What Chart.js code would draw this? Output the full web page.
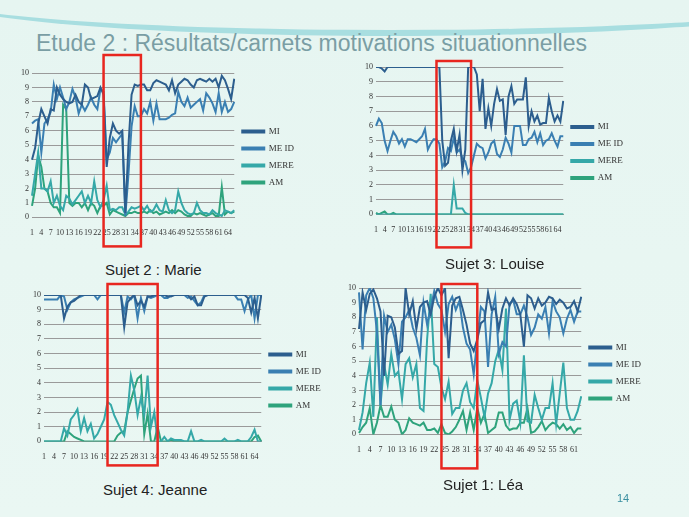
<!DOCTYPE html>
<html>
<head>
<meta charset="utf-8">
<script src="https://cdn.jsdelivr.net/npm/chart.js@4"></script>
<style>
  body { margin: 0; width: 689px; height: 517px; overflow: hidden; position: relative;
         background: linear-gradient(180deg, #e6f5f1 0%, #eaf7f3 100%); font-family: "Liberation Sans", Arial, sans-serif; }
  .swoosh { position: absolute; left: -60px; top: -40px; width: 900px; height: 70px; border-radius: 50%;
            border-bottom: 6px solid #7fcfd6; opacity: .6; }
  h1 { position: absolute; left: 36px; top: 30px; margin: 0; font-weight: normal; font-size: 23px; color: #7a9ea4; }
  .box { position: absolute; }
  .cap { position: absolute; font-size: 15px; color: #222; }
  .num { position: absolute; left: 617px; top: 492px; font-size: 11px; color: #3a8fa0; }
</style>
</head>
<body>
<div class="swoosh"></div>
<h1>Etude 2 : Résultats/carnets motivations situationnelles</h1>
<div class="box" style="left:18px;top:51px;width:300px;height:205px"><canvas id="c1"></canvas></div>
<div class="box" style="left:362px;top:57px;width:285px;height:200px"><canvas id="c2"></canvas></div>
<div class="box" style="left:30px;top:280px;width:315px;height:195px"><canvas id="c3"></canvas></div>
<div class="box" style="left:345px;top:280px;width:320px;height:198px"><canvas id="c4"></canvas></div>
<div class="cap" style="left:105px;top:261px">Sujet 2 : Marie</div>
<div class="cap" style="left:445px;top:255px">Sujet 3: Louise</div>
<div class="cap" style="left:103px;top:481px">Sujet 4: Jeanne</div>
<div class="cap" style="left:443px;top:476px">Sujet 1: Léa</div>
<div class="num">14</div>
<script>
const seriesNames = ['MI', 'ME ID', 'MERE', 'AM'];
const seriesColors = ['#2c5e8e', '#3a7fb2', '#35a8a8', '#2ea37c'];

// Sujet 2 : Marie
const marieMI = [4,4.8,6.5,7.5,7,6.5,7.5,7.4,9,8.5,8.2,8,7.9,8,8.5,8,7.8,9.2,9,8.2,8.3,8.4,9,8.5,3.5,5.5,6.5,6,5.8,6,0.3,5,8.5,9.2,9.1,9.2,9.2,8.8,8.8,9.3,9.5,9.4,9.3,9.2,8.8,9.5,8.6,9.2,9.4,9.6,9.5,9.2,9,9.5,9.6,9.5,9.4,9.6,9.4,9.6,9,9.8,9.5,8.9,8.2,9.6];
const marieMEID = [6.5,6.7,6.8,4.5,6.5,6.8,7.3,9.2,8.2,9,8.3,7.5,8,8.9,8.3,7.2,7.8,7.4,7.8,8.3,7.8,7.5,8.9,8.7,4,4.5,5.5,5.2,5.5,5.8,0.1,3,6.3,7.7,7,7,7.5,7.2,8,6.7,7.9,6.8,6.8,6.8,6.9,7.1,7.2,8.7,8,7.7,8.3,7.6,7.8,8,8.2,7.4,8.6,8.3,7.9,7.3,8.6,7.3,8,7.3,7.5,8];
const marieMERE = [1.5,3,4.5,2,2,1.8,2.5,1,1.5,0.8,0.5,1.5,1.3,0.9,1.2,1.5,1.8,1,1.5,1,2.5,1.2,0.7,1.2,2.2,0.5,0.6,0.5,0.7,0.7,0.2,0.4,0.7,0.6,0.7,0.8,0.5,0.8,0.4,0.5,0.9,0.5,0.4,1.2,0.5,0.3,0.5,1.8,1,0.5,0.3,0.2,0.3,1,0.5,0.3,0.3,0.2,0.5,0.3,0.2,0.1,0.5,0.4,0.3,0.5];
const marieAM = [0.8,2,4.3,3.5,2,1.8,1,0.7,0.7,0.3,7.8,7.5,1,0.8,1,1,0.7,1,0.5,1,0.8,0.3,0.8,0.8,1,0.2,0.5,0.4,0.3,0.2,0.1,0.3,0.3,0.4,0.3,0.3,0.4,0.3,0.5,0.3,0.4,0.2,0.3,0.4,0.3,0.5,0.3,0.5,0.4,0.2,0.1,0.1,0.3,0.2,0.3,0.2,0.1,0.2,0.3,0.1,0.1,2.1,0.2,0.4,0.3,0.4];

// Sujet 3: Louise
const louiseMI = [10,10,9.9,9.7,10,10,10,10,10,10,10,10,10,10,10,10,10,10,10,10,10,10,10,5,3.3,3.5,5,5.8,4.3,5.4,3,4.4,10,10,10,9.5,7,9.2,5.8,7.2,6,7.5,8.5,7.7,7.8,5.4,8,8.7,7.5,7.8,7.8,7.8,9.3,6,7,6.3,6.7,6.1,6.2,6.2,7.9,7,6.3,6.7,6.3,7.7];
const louiseMEID = [6,6.5,6.2,5,4.3,5,5.6,5.3,4.8,5.1,4.6,5.1,5.1,5,4.9,5.1,5.3,5.8,4.4,4.8,5.1,5.1,4.8,3.2,3.6,4.5,4.3,5.2,4.2,4.4,3.8,3.6,2.8,3.2,4,4.8,4.6,4.5,3.8,4.2,4.8,5,4.1,3.9,4.4,5.2,4.8,4.2,6,6,6,4.7,4.7,5.1,5.2,5.6,4.9,5.5,4.7,5,5.1,5.5,5,4.6,5.3,5.3];
const louiseMERE = [0,0,0,0,0,0,0,0,0,0,0,0,0,0,0,0,0,0,0,0,0,0,0,0,0,0,0,2,0.4,0.4,0.4,0.1,0,0,0,0,0,0,0,0,0,0,0,0,0,0,0,0,0,0,0,0,0,0,0,0,0,0,0,0,0,0,0,0,0,0];
const louiseAM = [0.1,0,0.1,0.2,0,0,0.1,0,0,0,0,0,0,0,0,0,0,0,0,0,0,0,0,0,0,0,0,0,0,0,0,0,0,0,0,0,0,0,0,0,0,0,0,0,0,0,0,0,0,0,0,0,0,0,0,0,0,0,0,0,0,0,0,0,0,0];

// Sujet 4: Jeanne
const jeanneMI = [10,10,10,10,10,10,8.4,9.2,9.5,9.6,9.8,10,10,10,10,10,10,10,10,10,10,10,10,10,7.8,9.5,9.8,10,9.3,9.6,9.2,9.9,9.9,10,10,10,10,9.9,9.9,10,10,10,10,10,9.7,9.9,9.3,9.3,9.9,10,10,10,10,10,10,10,10,10,10,10,10,9.8,8.8,9.8,8.4,10];
const jeanneMEID = [9.7,9.7,9.7,9.7,9.7,10,9.9,9,9.5,9.7,9.8,9.9,10,10,10,10,9.7,10,10,10,10,10,10,10,8.8,9.9,9.7,10,8.4,9.8,8.9,9.9,9.8,9.9,10,10,9.8,9.8,10,10,10,10,10,9.8,9.9,9.6,9.3,9.5,10,10,10,10,10,10,10,10,10,10,9.7,9.7,8.9,9.7,10,8.4,10,10];
const jeanneMERE = [0,0,0,0,0,0,0.9,0.4,1.5,1.8,2.2,0.7,1.6,0.7,1.2,0.2,0.5,1,1.5,2.7,2.5,1.8,1.3,0.8,0.4,2,4.5,3.5,1.8,3,1.8,4.5,1,2,0,0,0.3,0,0.2,0.1,0.1,0.1,0,0,0.7,0,0,0.1,0,0,0,0,0,0,0.2,0,0,0,0.1,0,0,0,0.3,0.8,0,0];
const jeanneAM = [0,0,0,0,0,0,0,0.7,0.5,0.3,0.2,0.1,0,0,0,0,0,0,0,0,0,0,0.4,0.6,0.7,2,2.8,3.6,4.3,4.5,0.5,1.9,0,0,1,0,0,0,0.1,0,0,0,0,0,0,0,0,0,0,0,0,0,0,0,0,0,0,0,0,0,0,0,0,0.3,0.4,0];

// Sujet 1: Léa
const leaMI = [7.2,9.7,8.5,9.6,9.9,9.3,8.4,4,8.1,8,7.3,5.5,5.7,10,8.2,9.1,7.2,8.7,9,9.1,8.2,9.4,10,9.5,10,5.2,8.8,9.3,9.4,8.5,7.5,6.2,5.7,6.5,7.6,7.8,9.7,8.5,8.6,7.2,8.6,9.3,8.8,9.3,8.9,8.2,6,9.5,9.3,8.6,9.3,8.8,9,9.4,9.3,8.9,9.2,9,8.6,8.7,9.1,8.4,9.4,8.6];
const leaMEID = [9.7,5.8,9.5,10,9.3,7,2,8.1,7,7.5,6.5,4.8,7.7,8,8.5,7.3,6.6,5.4,9,7.5,8.6,9.8,8.9,8.5,7,8.9,9.4,8.5,9.1,7.3,6.2,5.8,4.1,6.5,8.7,8.4,4.6,8.2,9.4,5.5,6.3,6,8.9,9.2,8.2,8.2,8.8,8,6.8,7.3,8.2,7.9,8.7,6.9,9.1,8.4,8,6.9,7.9,8.5,7.7,8.4,8.4];
const leaMERE = [0.3,1.5,3.5,4.9,1.2,8,2,4.8,3.4,5.5,4,4.3,2.4,4.8,5.2,3.9,4.8,1.8,1.6,6.5,9.6,4.8,4.6,3.2,2.4,3.6,1.4,1.8,1.8,3,3.5,2.2,1.8,3.7,2.5,1.2,2.8,3.5,5,5.8,4.4,8.6,1,2.1,2.3,0.8,5.4,0.9,0.8,2.7,1.8,1,1.8,1.8,3.5,0.7,2.8,4.9,1.8,1,1,1.6,2.6];
const leaAM = [0.1,0.5,0.8,1.8,0,0.8,2,1.2,1.2,1.9,1,0.8,0,0.3,1.1,0.8,0.7,0.6,0.8,0.3,0.3,0.4,0.1,0.7,0.1,0,0.2,0.5,1,1.6,0.3,1.5,0.3,1.8,0.8,1.4,0.1,0.3,0.5,1.5,1.5,0.6,0.3,0.4,0.4,0.8,0.8,1.8,0.1,0.2,0.5,0.9,0.3,0.6,0.8,0.7,0.4,0.7,0.3,0.5,0.1,0.4,0.4];

const dayLabels = n => Array.from({ length: n }, (_, i) => String(i + 1));

// red rectangle marking the period of interest (from/to are category indexes)
const redBox = {
    id: 'redBox',
    afterDatasetsDraw(chart, args, opts) {
        const x = chart.scales.x, a = chart.chartArea, c = chart.ctx;
        const x1 = x.getPixelForValue(opts.from), x2 = x.getPixelForValue(opts.to);
        c.save();
        c.strokeStyle = '#e8261f';
        c.lineWidth = 2.5;
        c.strokeRect(x1, a.top - opts.up, x2 - x1, a.bottom - a.top + opts.up + opts.down);
        c.restore();
    }
};

// extra gap between plot and legend
const legendGap = {
    id: 'legendGap',
    beforeInit(chart) {
        const fit = chart.legend.fit;
        chart.legend.fit = function () { fit.bind(chart.legend)(); this.width += 14; };
    }
};

const makeChart = (id, n, data, box) => {
    new Chart(document.getElementById(id), {
        type: 'line',
        data: {
            labels: dayLabels(n),
            datasets: data.map((d, i) => ({
                label: seriesNames[i],
                data: d,
                borderColor: seriesColors[i],
                backgroundColor: seriesColors[i],
                borderWidth: 2,
                pointRadius: 0,
                tension: 0
            }))
        },
        options: {
            responsive: true,
            maintainAspectRatio: false,
            animation: false,
            layout: { padding: { top: box.up + 4, bottom: box.down - 14 } },
            scales: {
                y: {
                    min: 0, max: 10,
                    ticks: { stepSize: 1, color: '#333', font: { family: 'Liberation Serif', size: 8 }, padding: 3 },
                    grid: { color: '#9a9a9a', drawTicks: false },
                    border: { display: false }
                },
                x: {
                    grid: { display: false },
                    border: { color: '#999' },
                    ticks: {
                        autoSkip: false, maxRotation: 0, color: '#333',
                        font: { family: 'Liberation Serif', size: 8 },
                        callback: (v, i) => (i % 3 === 0 ? String(i + 1) : '')
                    }
                }
            },
            plugins: {
                legend: {
                    position: 'right',
                    align: 'center',
                    labels: { boxWidth: 22, boxHeight: 2, color: '#333', padding: 8,
                              font: { family: 'Liberation Serif', size: 9 } }
                },
                tooltip: { enabled: false },
                redBox: box
            }
        },
        plugins: [redBox, legendGap]
    });
};

makeChart('c1', 66, [marieMI, marieMEID, marieMERE, marieAM], { from: 23, to: 35, up: 18, down: 29 });
makeChart('c2', 66, [louiseMI, louiseMEID, louiseMERE, louiseAM], { from: 21, to: 33, up: 6, down: 33 });
makeChart('c3', 66, [jeanneMI, jeanneMEID, jeanneMERE, jeanneAM], { from: 19, to: 34, up: 11, down: 24 });
makeChart('c4', 63, [leaMI, leaMEID, leaMERE, leaAM], { from: 23, to: 33, up: 4, down: 34 });
</script>
</body>
</html>
